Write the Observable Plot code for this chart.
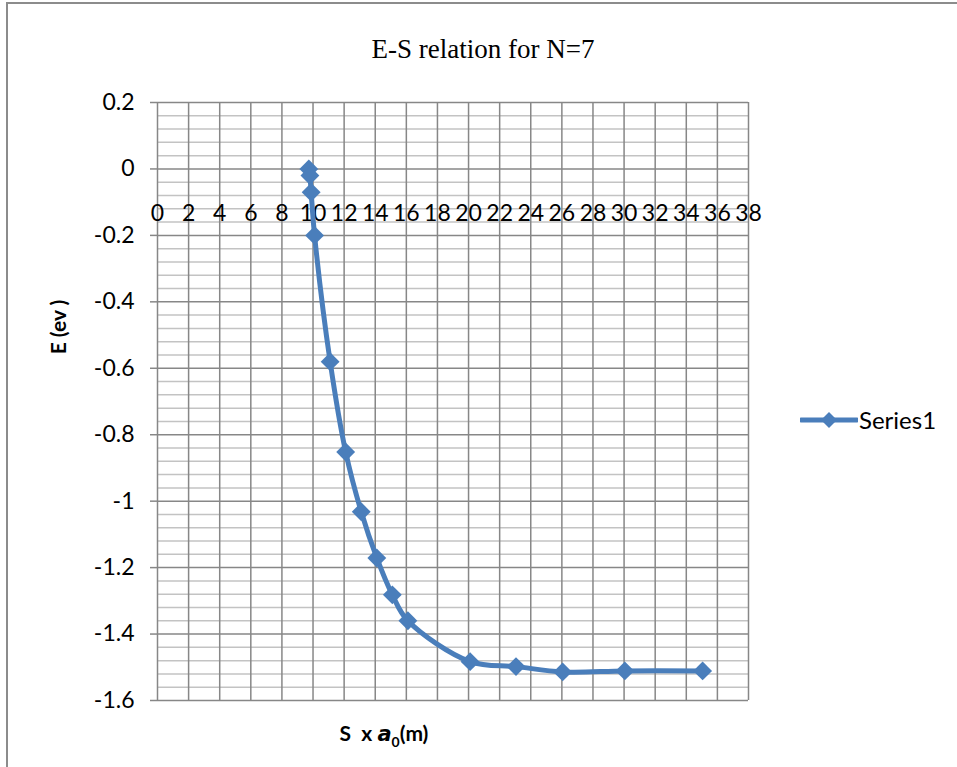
<!DOCTYPE html>
<html><head><meta charset="utf-8">
<script src="https://cdn.jsdelivr.net/npm/d3@7"></script>
<script src="https://cdn.jsdelivr.net/npm/@observablehq/plot@0.6"></script>
<style>
body{margin:0;background:#fff;}
#wrap{position:relative;width:957px;height:767px;overflow:hidden;background:#fff;}
#border{position:absolute;left:6px;top:2px;width:1200px;height:1200px;border:2px solid #8c8c8c;box-sizing:border-box;}
#chart{position:absolute;left:0;top:0;}
#title{position:absolute;left:0;width:966px;top:34px;text-align:center;font-family:"Liberation Serif","Times New Roman",serif;font-size:27px;color:#000;}
#ylab{position:absolute;left:57px;top:327px;transform:translate(-50%,-50%) rotate(-90deg);font-family:Lato,sans-serif;font-weight:bold;font-size:21px;white-space:nowrap;}
#xlab{position:absolute;left:384px;top:735px;transform:translate(-50%,-50%);font-family:Lato,sans-serif;font-weight:bold;font-size:21px;white-space:nowrap;}
#xlab i{font-family:"DejaVu Sans",sans-serif;font-weight:bold;}
#legend{position:absolute;left:800px;top:405px;display:flex;align-items:center;font-family:Lato,sans-serif;font-size:24px;}
</style></head>
<body>
<div id="wrap">
<div id="border"></div>
<div id="chart"></div>
<div id="title">E-S relation for N=7</div>
<div id="ylab">E (ev )</div>
<div id="xlab">S&nbsp; x <i>a</i><sub style="font-size:14px">0</sub>(m)</div>
<div id="legend"><svg width="58" height="20"><line x1="1" y1="10" x2="57" y2="10" stroke="#4a7ebb" stroke-width="5" stroke-linecap="round"/><path d="M29,2 L37,10 L29,18 L21,10 Z" fill="#4a7ebb"/></svg><span style="margin-left:1px">Series1</span></div>
</div>
<script>
const sValues = [9.73, 9.8, 9.88, 10.1, 11.1, 12.1, 13.1, 14.1, 15.1, 16.1, 20.1, 23.05, 26.05, 30.05, 35.05];
const eValues = [0, -0.02, -0.07, -0.2, -0.58, -0.852, -1.032, -1.171, -1.282, -1.36, -1.483, -1.498, -1.514, -1.511, -1.511];
const xTicks = [0,2,4,6,8,10,12,14,16,18,20,22,24,26,28,30,32,34,36,38];
const yTicks = [0.2, 0, -0.2, -0.4, -0.6, -0.8, -1, -1.2, -1.4, -1.6];
const yTickLabels = ["0.2","0","-0.2","-0.4","-0.6","-0.8","-1","-1.2","-1.4","-1.6"];

const data = sValues.map((s, i) => ({s, e: eValues[i]}));
const minorY = d3.range(0, 46).map(i => 0.2 - i * 0.04).filter(v => !yTicks.some(t => Math.abs(t - v) < 1e-6));
const labelOf = new Map(yTicks.map((t, i) => [t, yTickLabels[i]]));

const chart = Plot.plot({
  width: 957, height: 767,
  marginLeft: 157, marginRight: 209, marginTop: 102, marginBottom: 67,
  x: {domain: [0, 38], axis: null},
  y: {domain: [-1.6, 0.2], axis: null},
  style: {background: "transparent", overflow: "visible"},
  marks: [
    Plot.ruleY(minorY, {stroke: "#c3c3c3", strokeWidth: 1.5}),
    Plot.ruleX(xTicks, {stroke: "#878787", strokeWidth: 1.5}),
    Plot.ruleY(yTicks, {stroke: "#878787", strokeWidth: 1.5}),
    Plot.axisY({ticks: yTicks, tickSize: 7, tickPadding: 16, tickFormat: d => labelOf.get(d), fontSize: 23, fontFamily: "Lato", label: null, stroke: "#878787", strokeWidth: 1.5, fill: "#000"}),
    Plot.text(xTicks, {x: d => d, y: 0, dy: 45, text: d => String(d), fontSize: 23, fontFamily: "Lato", fill: "#000"}),
    Plot.line(data, {x: "s", y: "e", curve: "catmull-rom", stroke: "#4a7ebb", strokeWidth: 5, strokeLinejoin: "round"}),
    Plot.dot(data, {x: "s", y: "e", symbol: "diamond2", r: 8.5, fill: "#4a7ebb", stroke: "none"})
  ]
});
document.getElementById("chart").appendChild(chart);
</script>
</body></html>
